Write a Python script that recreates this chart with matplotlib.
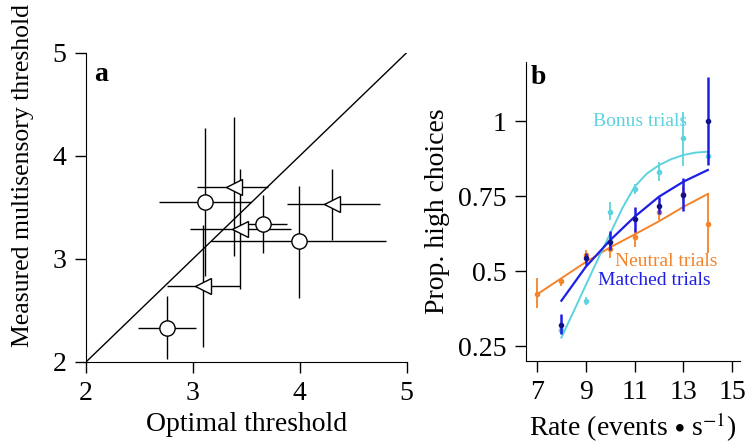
"""
Two-panel figure: (a) measured vs optimal thresholds, (b) psychometric curves
"""
import numpy as np
import matplotlib
matplotlib.use("Agg")
import matplotlib.pyplot as plt

plt.rcParams['font.family'] = ['Liberation Serif', 'DejaVu Serif']
plt.rcParams['mathtext.fontset'] = 'stix'

# panel a : circles
circ_x = [2.76, 3.11, 3.66, 3.99]
circ_y = [2.33, 3.55, 3.34, 3.17]
circ_xlo = [2.49, 2.68, 3.49, 3.17]
circ_xhi = [3.03, 3.54, 3.88, 4.81]
circ_ylo = [2.03, 2.83, 3.06, 2.62]
circ_yhi = [2.64, 4.27, 3.62, 3.71]

# panel a : triangles
tri_x = [3.38, 3.44, 3.09, 4.30]
tri_y = [3.70, 3.29, 2.74, 3.53]
tri_xlo = [3.04, 2.97, 2.76, 3.88]
tri_xhi = [3.70, 3.92, 3.44, 4.75]
tri_ylo = [3.03, 2.71, 2.15, 3.18]
tri_yhi = [4.38, 3.87, 3.33, 3.87]

# panel b : data points
rate_n = [7, 8, 9, 10, 11, 12, 13, 14]
neutral = [0.423, 0.467, 0.553, 0.572, 0.614, 0.698, 0.757, 0.656]
neutral_lo = [0.376, 0.449, 0.530, 0.545, 0.580, 0.670, 0.735, 0.560]
neutral_hi = [0.476, 0.478, 0.570, 0.595, 0.640, 0.720, 0.780, 0.760]

rate_m = [8, 9, 10, 11, 12, 13, 14]
matched = [0.320, 0.542, 0.598, 0.673, 0.718, 0.753, 1.000]
matched_lo = [0.291, 0.520, 0.570, 0.630, 0.690, 0.700, 0.853]
matched_hi = [0.358, 0.560, 0.635, 0.713, 0.748, 0.810, 1.147]

rate_b = [8, 9, 10, 11, 12, 13, 14]
bonus = [0.303, 0.400, 0.696, 0.773, 0.829, 0.942, 0.884]
bonus_lo = [0.290, 0.388, 0.670, 0.758, 0.800, 0.850, 0.872]
bonus_hi = [0.315, 0.412, 0.730, 0.790, 0.865, 1.030, 0.900]

# panel b : fitted curves
fit_n_x = [7, 8, 9, 10, 11, 12, 13, 14]
fit_n_y = [0.422, 0.476, 0.530, 0.579, 0.622, 0.666, 0.714, 0.757]
fit_m_x = [8, 9, 10, 11, 12, 13, 14]
fit_m_y = [0.401, 0.514, 0.603, 0.681, 0.748, 0.798, 0.837]
fit_b_x = [8, 8.5, 9, 9.5, 10, 10.5, 11, 11.5, 12, 12.5, 13, 13.5, 14]
fit_b_y = [0.278, 0.365, 0.453, 0.540, 0.625, 0.710, 0.781, 0.825, 0.853, 0.873, 0.887, 0.895, 0.898]

c_orange = '#F5832A'
c_blue = '#1E1EE6'
c_dark = '#12128A'
c_cyan = '#5CD3DE'

fig = plt.figure(figsize=(7.51, 4.44), dpi=100)

#
# panel a
#
ax = fig.add_axes([0.1145, 0.1847, 0.427, 0.6966])
ax.plot([2, 5], [2, 5], color='black', lw=1.0)
cx, cy = np.array(circ_x), np.array(circ_y)
ax.errorbar(cx, cy,
            xerr=[cx - np.array(circ_xlo), np.array(circ_xhi) - cx],
            yerr=[cy - np.array(circ_ylo), np.array(circ_yhi) - cy],
            fmt='o', ms=11, mfc='white', mec='black', mew=1.0,
            ecolor='black', elinewidth=1.0, capsize=0, zorder=3)
tx, ty = np.array(tri_x), np.array(tri_y)
ax.errorbar(tx, ty,
            xerr=[tx - np.array(tri_xlo), np.array(tri_xhi) - tx],
            yerr=[ty - np.array(tri_ylo), np.array(tri_yhi) - ty],
            fmt='<', ms=12, mfc='white', mec='black', mew=1.0,
            ecolor='black', elinewidth=1.0, capsize=0, zorder=3)
ax.set_xlim(2, 5)
ax.set_ylim(2, 5)
ax.set_xticks([2, 3, 4, 5])
ax.set_yticks([2, 3, 4, 5])
ax.spines['top'].set_visible(False)
ax.spines['right'].set_visible(False)
ax.tick_params(direction='out', length=8, width=1.0, labelsize=20, pad=6)
ax.set_xlabel('Optimal threshold', fontsize=20, labelpad=4)
fig.text(0.03, 0.605, 'Measured multisensory threshold', rotation=90,
         fontsize=18.5, ha='center', va='center')
ax.text(0.025, 0.97, 'a', transform=ax.transAxes, fontsize=20,
        fontweight='bold', va='top', ha='left')

#
# panel b
#
bx = fig.add_axes([0.7004, 0.1876, 0.285, 0.6734])
bx.plot(fit_n_x, fit_n_y, color=c_orange, lw=1.4, zorder=2)
bx.plot(fit_b_x, fit_b_y, color=c_cyan, lw=1.4, zorder=2)
bx.plot(fit_m_x, fit_m_y, color=c_blue, lw=1.6, zorder=2)

n = np.array(neutral)
bx.errorbar(rate_n, n, yerr=[n - np.array(neutral_lo), np.array(neutral_hi) - n],
            fmt='o', ms=3, color=c_orange, ecolor=c_orange, elinewidth=1.3,
            capsize=0, zorder=3)
b = np.array(bonus)
bx.errorbar(rate_b, b, yerr=[b - np.array(bonus_lo), np.array(bonus_hi) - b],
            fmt='o', ms=3, color=c_cyan, ecolor=c_cyan, elinewidth=1.3,
            capsize=0, zorder=3)
m = np.array(matched)
bx.errorbar(rate_m, m, yerr=[m - np.array(matched_lo), np.array(matched_hi) - m],
            fmt='o', ms=3, color=c_dark, ecolor=c_blue, elinewidth=1.8,
            capsize=0, zorder=4)

bx.text(11.23, 1.0, 'Bonus trials', color=c_cyan, fontsize=14, ha='center', va='center')
bx.text(12.3, 0.533, 'Neutral trials', color=c_orange, fontsize=14, ha='center', va='center')
bx.text(11.8, 0.469, 'Matched trials', color=c_blue, fontsize=14, ha='center', va='center')

bx.set_xlim(6.55, 15.32)
bx.set_ylim(0.201, 1.198)
bx.set_xticks([7, 9, 11, 13, 15])
bx.set_yticks([0.25, 0.5, 0.75, 1])
bx.set_yticklabels(['0.25', '0.5', '0.75', '1'])
bx.spines['top'].set_visible(False)
bx.spines['right'].set_visible(False)
bx.tick_params(direction='out', length=8, width=1.0, labelsize=20, pad=6)
bx.set_xlabel(r'Rate (events$\,\bullet\,$s$^{-1}$)', fontsize=20, labelpad=4)
bx.set_ylabel('Prop. high choices', fontsize=20, labelpad=6)
bx.text(0.02, 0.99, 'b', transform=bx.transAxes, fontsize=20,
        fontweight='bold', va='top', ha='left')

fig.savefig('out.png', dpi=100)
